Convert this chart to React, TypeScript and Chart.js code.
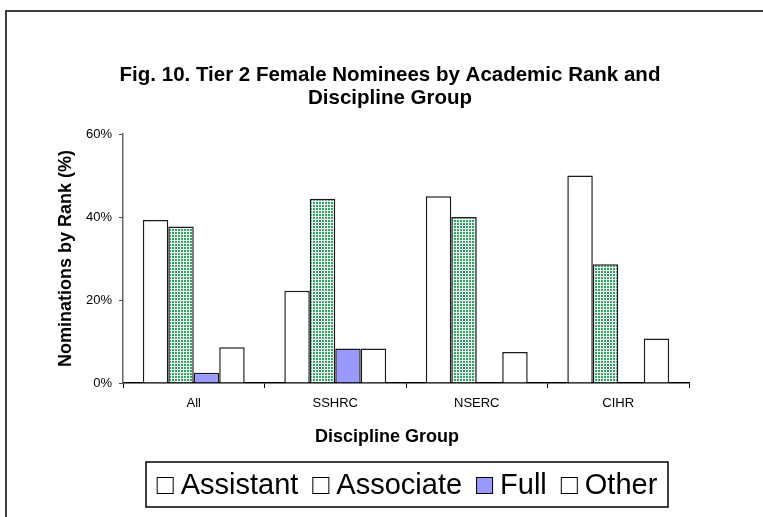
import React, { useEffect, useRef } from 'react';
import { Chart, registerables } from 'chart.js';
Chart.register(...registerables);

const categories = ['All', 'SSHRC', 'NSERC', 'CIHR'];
const seriesNames = ['Assistant', 'Associate', 'Full', 'Other'];
const assistant = [39.3, 22.2, 45.0, 50.0];
const associate = [37.7, 44.4, 40.0, 28.6];
const full = [2.5, 8.3, null, null];
const other = [8.6, 8.3, 7.5, 10.7];
const yTickValues = [0, 20, 40, 60];
const titleLines = ['Fig. 10. Tier 2 Female Nominees by Academic Rank and', 'Discipline Group'];
const xTitle = 'Discipline Group';
const yTitle = 'Nominations by Rank (%)';
const legendFill = ['#ffffff', '#ffffff', '#9999ff', '#ffffff'];

const FONT = '"Liberation Sans", Arial, sans-serif';

function makePattern(): CanvasPattern | string {
  const pc = document.createElement('canvas');
  pc.width = 3;
  pc.height = 3;
  const g = pc.getContext('2d');
  if (!g) return '#3c9f6c';
  g.fillStyle = '#36a068';
  g.fillRect(0, 0, 3, 3);
  g.fillStyle = '#eef8f1';
  g.fillRect(0, 0, 3, 1);
  g.fillRect(0, 0, 1, 3);
  const p = g.createPattern(pc, 'repeat');
  return p || '#3c9f6c';
}

const decor = {
  id: 'decor',
  beforeDraw(chart: any) {
    const { ctx, width, height } = chart;
    ctx.save();
    ctx.fillStyle = '#ffffff';
    ctx.fillRect(0, 0, width, height);
    ctx.strokeStyle = '#404040';
    ctx.lineWidth = 2;
    ctx.strokeRect(6, 11, width + 20, height + 20);
    ctx.restore();
  },
  afterDraw(chart: any) {
    const { ctx } = chart;
    ctx.save();
    ctx.fillStyle = '#000';
    ctx.textAlign = 'center';
    ctx.textBaseline = 'middle';
    ctx.font = `bold 20.5px ${FONT}`;
    titleLines.forEach((t, i) => ctx.fillText(t, 390, 75 + i * 23));
    ctx.font = `bold 18px ${FONT}`;
    ctx.fillText(xTitle, 387, 437);

    // legend
    const L = 146, R = 668, T = 462, B = 507;
    ctx.lineWidth = 1.5;
    ctx.strokeStyle = '#000';
    ctx.strokeRect(L, T, R - L, B - T);
    ctx.font = `29px ${FONT}`;
    const box = 17, gapIn = 7, gapOut = 14;
    const widths = seriesNames.map((n) => ctx.measureText(n).width);
    const total = widths.reduce((a, b) => a + b, 0) + seriesNames.length * (box + gapIn) + (seriesNames.length - 1) * gapOut;
    let x = (L + R) / 2 - total / 2;
    const cy = (T + B) / 2;
    seriesNames.forEach((n, i) => {
      ctx.fillStyle = legendFill[i];
      ctx.fillRect(x, cy - box / 2 + 1, box, box);
      ctx.lineWidth = 1;
      ctx.strokeStyle = '#000';
      ctx.strokeRect(x + 0.5, cy - box / 2 + 1.5, box - 1, box - 1);
      x += box + gapIn;
      ctx.fillStyle = '#000';
      ctx.textAlign = 'left';
      ctx.fillText(n, x, cy + 1);
      x += widths[i] + gapOut;
    });
    ctx.restore();
  },
};

export default function App() {
  const ref = useRef<HTMLCanvasElement | null>(null);
  useEffect(() => {
    if (!ref.current) return;
    const pattern = makePattern();
    const border = '#1a1a1a';
    const chart = new Chart(ref.current, {
      type: 'bar',
      data: {
        labels: categories,
        datasets: [
          { label: seriesNames[0], data: assistant, backgroundColor: '#ffffff', borderColor: border, borderWidth: 1.5 },
          { label: seriesNames[1], data: associate, backgroundColor: pattern as any, borderColor: border, borderWidth: 1.5 },
          { label: seriesNames[2], data: full as any, backgroundColor: '#9999ff', borderColor: border, borderWidth: 1.5 },
          { label: seriesNames[3], data: other, backgroundColor: '#ffffff', borderColor: border, borderWidth: 1.5 },
        ],
      },
      options: {
        animation: false,
        responsive: true,
        maintainAspectRatio: false,
        layout: { padding: { left: 0, right: 74, top: 134, bottom: 84 } },
        datasets: { bar: { barPercentage: 1.0, categoryPercentage: 0.72 } },
        plugins: {
          legend: { display: false },
          title: { display: false },
          tooltip: { enabled: false },
        },
        scales: {
          x: {
            afterFit: (s: any) => { s.height = 50; },
            grid: { display: true, drawOnChartArea: false, drawTicks: true, tickLength: 5, color: '#000', offset: true },
            border: { display: true, color: '#000', width: 1.5 },
            ticks: { color: '#000', font: { family: FONT, size: 13 }, padding: 8 },
          },
          y: {
            min: 0,
            max: 60,
            afterFit: (s: any) => { s.width = 123; },
            afterBuildTicks: (s: any) => { s.ticks = yTickValues.map((v) => ({ value: v })); },
            grid: { display: true, drawOnChartArea: false, drawTicks: true, tickLength: 4, color: '#444' },
            border: { display: true, color: '#666', width: 1.5 },
            ticks: {
              color: '#000',
              font: { family: FONT, size: 13 },
              padding: 7,
              callback: (v: any) => `${v}%`,
            },
            title: {
              display: true,
              text: yTitle,
              color: '#000',
              font: { family: FONT, size: 18, weight: 'bold' },
              padding: { top: 55, bottom: 0 },
            },
          },
        },
      },
      plugins: [decor],
    });
    return () => chart.destroy();
  }, []);
  return (
    <div style={{ position: 'fixed', left: 0, top: 0, width: 763, height: 517, background: '#fff' }}>
      <canvas ref={ref} />
    </div>
  );
}
